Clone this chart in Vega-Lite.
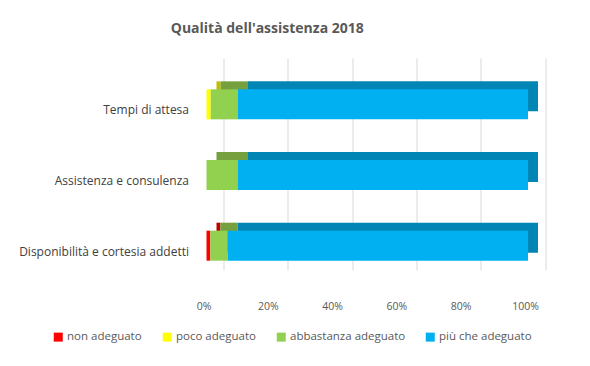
{
  "$schema": "https://vega.github.io/schema/vega-lite/v6.json",
  "width": 321.5,
  "height": 212,
  "autosize": {"type": "none"},
  "padding": {"left": 223.5, "top": 58, "right": 45, "bottom": 96},
  "background": "white",
  "title": {
    "text": "Qualità dell'assistenza 2018",
    "font": "Open Sans",
    "fontSize": 14,
    "fontWeight": "bold",
    "color": "#595959",
    "anchor": "middle",
    "dx": -117,
    "offset": 22
  },
  "data": {
    "values": [
      {"cat": "Tempi di attesa", "giudizio": "non adeguato", "ord": 1, "val": 0},
      {"cat": "Tempi di attesa", "giudizio": "poco adeguato", "ord": 2, "val": 1.3},
      {"cat": "Tempi di attesa", "giudizio": "abbastanza adeguato", "ord": 3, "val": 8.5},
      {"cat": "Tempi di attesa", "giudizio": "più che adeguato", "ord": 4, "val": 90.2},
      {"cat": "Assistenza e consulenza", "giudizio": "non adeguato", "ord": 1, "val": 0},
      {"cat": "Assistenza e consulenza", "giudizio": "poco adeguato", "ord": 2, "val": 0},
      {"cat": "Assistenza e consulenza", "giudizio": "abbastanza adeguato", "ord": 3, "val": 9.8},
      {"cat": "Assistenza e consulenza", "giudizio": "più che adeguato", "ord": 4, "val": 90.2},
      {"cat": "Disponibilità e cortesia addetti", "giudizio": "non adeguato", "ord": 1, "val": 1.2},
      {"cat": "Disponibilità e cortesia addetti", "giudizio": "poco adeguato", "ord": 2, "val": 0},
      {"cat": "Disponibilità e cortesia addetti", "giudizio": "abbastanza adeguato", "ord": 3, "val": 5.4},
      {"cat": "Disponibilità e cortesia addetti", "giudizio": "più che adeguato", "ord": 4, "val": 93.4}
    ]
  },
  "encoding": {
    "y": {
      "field": "cat",
      "type": "nominal",
      "sort": ["Tempi di attesa", "Assistenza e consulenza", "Disponibilità e cortesia addetti"],
      "axis": {
        "title": null,
        "domain": false,
        "ticks": false,
        "labelFont": "Open Sans",
        "labelFontSize": 12,
        "labelColor": "#404040",
        "labelPadding": 35,
        "labelOffset": 17,
        "labelLimit": 300
      }
    },
    "x": {
      "field": "val",
      "type": "quantitative",
      "stack": "normalize",
      "axis": {
        "title": null,
        "format": ".0%",
        "values": [0, 0.2, 0.4, 0.6, 0.8, 1],
        "domain": false,
        "ticks": false,
        "gridColor": "#D9D9D9",
        "labelFlush": false,
        "labelFont": "Open Sans",
        "labelFontSize": 10.5,
        "labelColor": "#595959",
        "labelPadding": 31,
        "labelOffset": -20
      }
    },
    "order": {"field": "ord", "type": "quantitative"}
  },
  "layer": [
    {
      "mark": {"type": "bar", "xOffset": -7, "yOffset": 3, "size": 30},
      "encoding": {
        "color": {
          "field": "giudizio",
          "type": "nominal",
          "scale": {
            "domain": ["non adeguato", "poco adeguato", "abbastanza adeguato", "più che adeguato"],
            "range": ["#C00000", "#BFBF00", "#76A03E", "#0085B5"]
          },
          "legend": null
        }
      }
    },
    {
      "mark": {"type": "bar", "xOffset": -17, "yOffset": 11, "size": 30},
      "encoding": {
        "color": {
          "field": "giudizio",
          "type": "nominal",
          "sort": ["non adeguato", "poco adeguato", "abbastanza adeguato", "più che adeguato"],
          "scale": {
            "domain": ["non adeguato", "poco adeguato", "abbastanza adeguato", "più che adeguato"],
            "range": ["#FF0000", "#FFFF00", "#92D050", "#00B0F0"]
          },
          "legend": {
            "title": null,
            "orient": "none",
            "legendX": -171,
            "legendY": 273,
            "direction": "horizontal",
            "columns": 4,
            "columnPadding": 19,
            "symbolType": "square",
            "symbolSize": 81,
            "symbolStrokeWidth": 0,
            "labelFont": "Open Sans",
            "labelFontSize": 11.5,
            "labelColor": "#595959",
            "labelOffset": 3
          }
        }
      }
    }
  ],
  "resolve": {"scale": {"color": "independent"}},
  "config": {"view": {"stroke": null}}
}
